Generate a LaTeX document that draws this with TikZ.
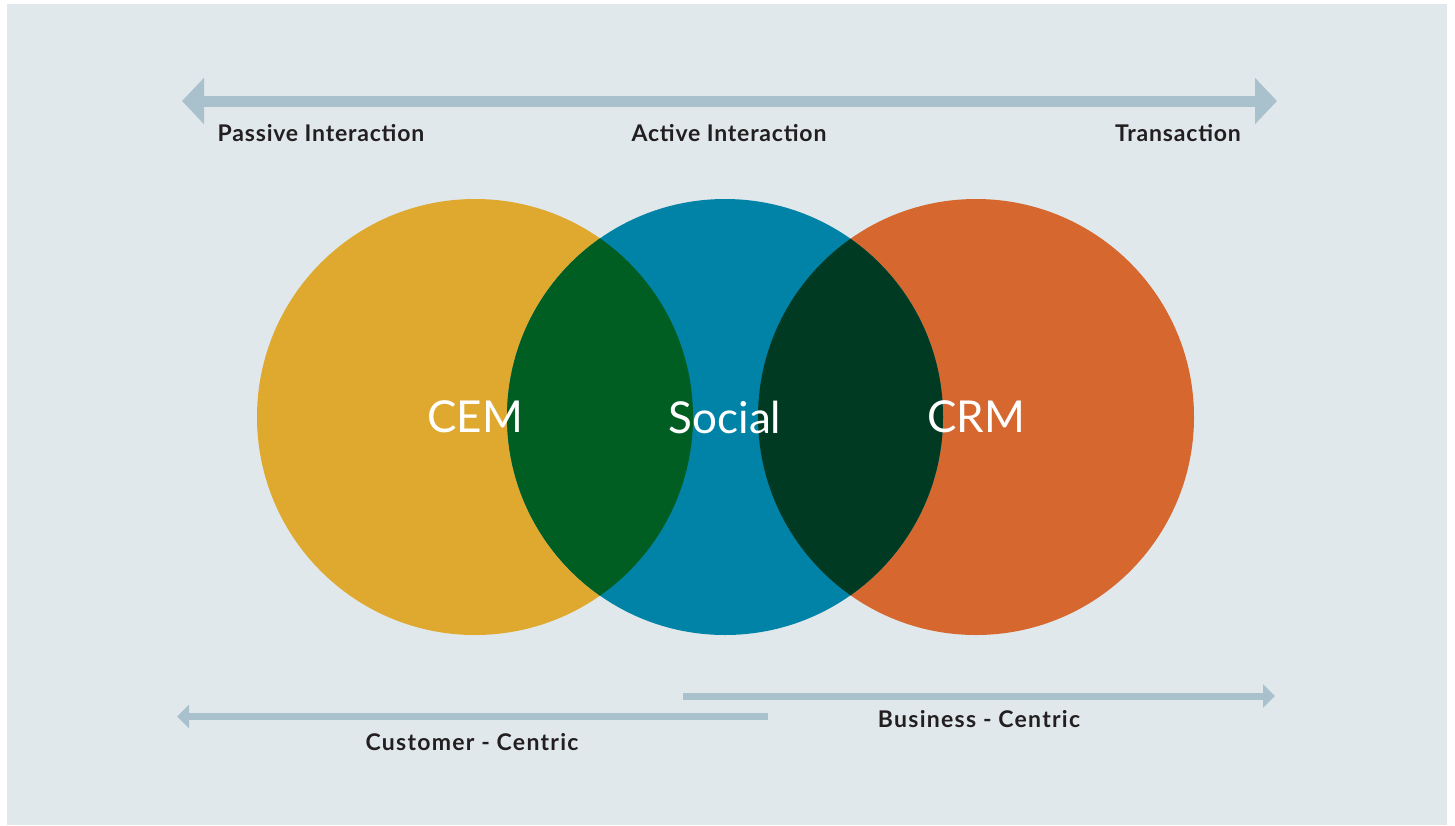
\documentclass[tikz,border=0pt]{standalone}
\usepackage{fontspec}
\setmainfont{Lato}
\newfontfamily\labfont[LetterSpace=3.5]{Lato}
\newfontfamily\botfont[LetterSpace=5.5]{Lato}
\usetikzlibrary{arrows.meta}
\definecolor{bgc}{HTML}{E0E8EB}
\definecolor{arrc}{HTML}{A9C1CD}
\definecolor{cemc}{HTML}{DFA930}
\definecolor{socc}{HTML}{0083A6}
\definecolor{crmc}{HTML}{D6672F}
\definecolor{ovla}{HTML}{005E22}
\definecolor{ovlb}{HTML}{003A22}
\definecolor{txtc}{HTML}{231F20}
\begin{document}
\begin{tikzpicture}[x=1pt,y=-1pt,
  toplabel/.style={font=\labfont\fontsize{23}{26}\selectfont\bfseries, text=txtc, inner sep=0pt},
  botlabel/.style={font=\botfont\fontsize{23}{26}\selectfont\bfseries, text=txtc, inner sep=0pt},
  circlabel/.style={font=\fontsize{44}{50}\selectfont, text=white, inner sep=0pt},
  bigarrow/.style={draw=arrc, line width=11pt, {Triangle[length=22pt,width=45pt]}-{Triangle[length=22pt,width=45pt]}},
  smallarrow/.style={draw=arrc, line width=7pt, -{Triangle[length=12pt,width=23pt]}}]
\useasboundingbox (0,0) rectangle (1455,825);
\fill[white] (0,0) rectangle (1455,825);
\fill[bgc] (7,4) rectangle (1447,825);
% top arrow
\coordinate (tl) at (182,101);
\coordinate (tr) at (1277,101);
\draw[bigarrow] (tl) -- (tr);
\node[toplabel] (passive) at (321,133) {Passive Interaction};
\node[toplabel] (active) at (729,133) {Active Interaction};
\node[toplabel] (trans) at (1178,133) {Transaction};
% circles
\coordinate (cemc) at (475,417);
\coordinate (socc) at (725,417);
\coordinate (crmc) at (976,417);
\fill[cemc] (cemc) circle (218);
\fill[crmc] (crmc) circle (218);
\fill[socc] (socc) circle (218);
\begin{scope}
  \clip (cemc) circle (218);
  \fill[ovla] (socc) circle (218);
\end{scope}
\begin{scope}
  \clip (crmc) circle (218);
  \fill[ovlb] (socc) circle (218);
\end{scope}
\node[circlabel] (cem) at (475,417) {CEM};
\node[circlabel] (social) at (725,417) {Social};
\node[circlabel] (crm) at (976,417) {CRM};
% bottom arrows
\coordinate (bls) at (768,716.5);
\coordinate (ble) at (177,716.5);
\draw[smallarrow] (bls) -- (ble);
\coordinate (brs) at (683,696);
\coordinate (bre) at (1275,696);
\draw[smallarrow] (brs) -- (bre);
\node[botlabel] (cust) at (472,742) {Customer - Centric};
\node[botlabel] (bus) at (979,719) {Business - Centric};
\end{tikzpicture}
\end{document}
